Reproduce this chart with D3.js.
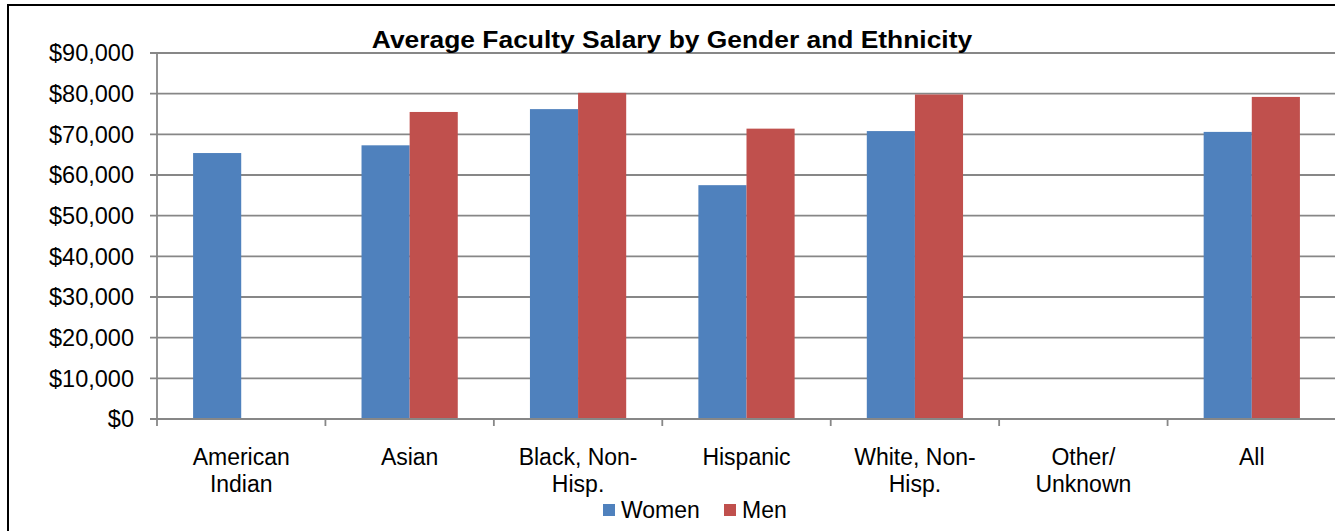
<!DOCTYPE html>
<html>
<head>
<meta charset="utf-8">
<script src="https://cdn.jsdelivr.net/npm/d3@7"></script>
<style>
  body { margin: 0; background: #fff; }
  text { font-family: "Liberation Sans", Arial, sans-serif; fill: #000; }
</style>
</head>
<body>
<div id="chart"></div>
<script>
// data
var categories = [["American", "Indian"], ["Asian"], ["Black, Non-", "Hisp."], ["Hispanic"],
                  ["White, Non-", "Hisp."], ["Other/", "Unknown"], ["All"]];
var series = ["Women", "Men"];
var women = [65400, 67300, 76200, 57500, 70800, null, 70600];
var men   = [null, 75500, 80200, 71400, 79800, null, 79200];
var yTicks = [0, 10000, 20000, 30000, 40000, 50000, 60000, 70000, 80000, 90000];
var colors = ["#4F81BD", "#C0504D"];

var width = 1335, height = 531;
var margin = {top: 53, left: 157, bottom: 419, right: 1336};

var svg = d3.select("#chart").append("svg")
    .attr("width", width)
    .attr("height", height);

// outer frame
svg.append("rect")
    .attr("x", 8).attr("y", 5)
    .attr("width", 1400).attr("height", 600)
    .attr("fill", "none")
    .attr("stroke", "#000")
    .attr("stroke-width", 2);

var x0 = d3.scaleBand()
    .domain(d3.range(categories.length))
    .range([margin.left, margin.right]);

var bw = x0.bandwidth() / 3.5;
var x1 = d3.scaleBand()
    .domain(series)
    .range([bw * 0.75, x0.bandwidth() - bw * 0.75]);

var y = d3.scaleLinear()
    .domain([0, 90000])
    .range([margin.bottom, margin.top]);

// gridlines
svg.append("g")
    .selectAll("line")
    .data(yTicks)
    .join("line")
    .attr("x1", margin.left - 7)
    .attr("x2", width)
    .attr("y1", d => y(d))
    .attr("y2", d => y(d))
    .attr("stroke", "#878787")
    .attr("stroke-width", 1.8);

// y axis labels
svg.append("g")
    .selectAll("text")
    .data(yTicks)
    .join("text")
    .attr("x", 134)
    .attr("y", d => y(d))
    .attr("dy", "0.35em")
    .attr("text-anchor", "end")
    .style("font-size", "23.5px")
    .text(d => "$" + d3.format(",")(d));

// bars
var rows = categories.map((c, i) => ({i: i, vals: [women[i], men[i]]}));
var groups = svg.append("g")
    .selectAll("g")
    .data(rows)
    .join("g")
    .attr("transform", d => "translate(" + x0(d.i) + ",0)");

groups.selectAll("rect")
    .data(d => series.map((s, k) => ({s: s, k: k, v: d.vals[k]})).filter(e => e.v != null))
    .join("rect")
    .attr("x", d => x1(d.s))
    .attr("width", x1.bandwidth())
    .attr("y", d => y(d.v))
    .attr("height", d => y(0) - y(d.v))
    .attr("fill", d => colors[d.k]);

// y axis line
svg.append("line")
    .attr("x1", margin.left).attr("x2", margin.left)
    .attr("y1", margin.top).attr("y2", margin.bottom)
    .attr("stroke", "#878787")
    .attr("stroke-width", 1.8);

// x axis line + ticks
svg.append("line")
    .attr("x1", margin.left).attr("x2", width)
    .attr("y1", margin.bottom).attr("y2", margin.bottom)
    .attr("stroke", "#878787")
    .attr("stroke-width", 1.8);

svg.append("g")
    .selectAll("line")
    .data(d3.range(categories.length + 1))
    .join("line")
    .attr("x1", d => margin.left + d * x0.step())
    .attr("x2", d => margin.left + d * x0.step())
    .attr("y1", margin.bottom)
    .attr("y2", margin.bottom + 7)
    .attr("stroke", "#878787")
    .attr("stroke-width", 1.8);

// category labels
var labels = svg.append("g")
    .selectAll("g")
    .data(categories)
    .join("g")
    .attr("transform", (d, i) => "translate(" + (x0(i) + x0.bandwidth() / 2) + ",465)");

labels.selectAll("text")
    .data(d => d)
    .join("text")
    .attr("y", (d, j) => j * 27)
    .attr("text-anchor", "middle")
    .style("font-size", "23px")
    .text(d => d);

// title
svg.append("text")
    .attr("transform", "translate(672,48) scale(1.1,1)")
    .attr("text-anchor", "middle")
    .style("font-size", "24px")
    .style("font-weight", "bold")
    .text("Average Faculty Salary by Gender and Ethnicity");

// legend
var legend = svg.append("g")
    .attr("transform", "translate(603,504)");

var items = legend.selectAll("g")
    .data(series)
    .join("g")
    .attr("transform", (d, i) => "translate(" + (i * 121) + ",0)");

items.append("rect")
    .attr("width", 12)
    .attr("height", 12)
    .attr("fill", (d, i) => colors[i]);

items.append("text")
    .attr("x", 18)
    .attr("y", 14)
    .style("font-size", "23px")
    .text(d => d);
</script>
</body>
</html>
